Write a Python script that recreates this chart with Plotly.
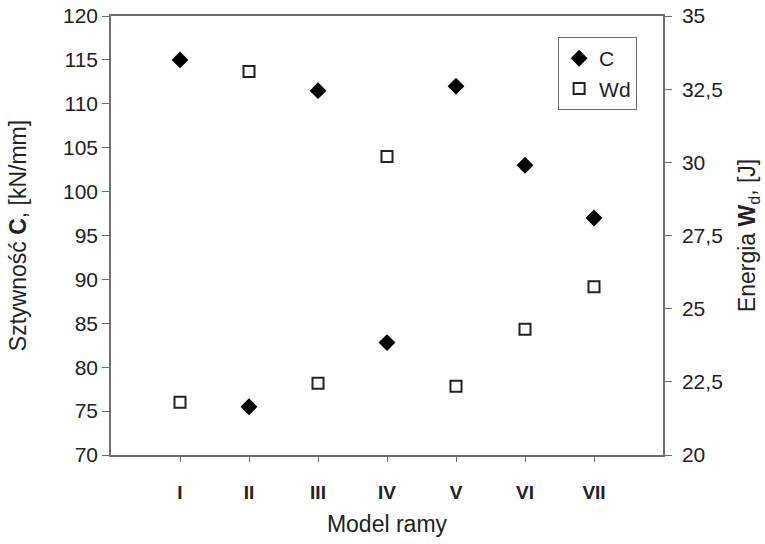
import plotly.graph_objects as go

categories = ["I", "II", "III", "IV", "V", "VI", "VII"]
stiffness_C = [115.0, 75.5, 111.5, 82.8, 112.0, 103.0, 97.0]
energy_Wd = [21.8, 33.1, 22.45, 30.2, 22.35, 24.3, 25.75]

left_ticks = [70, 75, 80, 85, 90, 95, 100, 105, 110, 115, 120]
right_ticks = [20, 22.5, 25, 27.5, 30, 32.5, 35]
right_ticktext = ["20", "22,5", "25", "27,5", "30", "32,5", "35"]
x_ticktext = ["<b>I</b>", "<b>II</b>", "<b>III</b>", "<b>IV</b>", "<b>V</b>", "<b>VI</b>", "<b>VII</b>"]

FONT = "Liberation Sans, Arial, sans-serif"
AX = "#6e6e6e"

fig = go.Figure()
fig.add_trace(go.Scatter(
    x=categories, y=stiffness_C, mode="markers", name="C",
    marker=dict(symbol="diamond", size=13, color="black", line=dict(width=0)),
    yaxis="y"))
fig.add_trace(go.Scatter(
    x=categories, y=energy_Wd, mode="markers", name="Wd",
    marker=dict(symbol="square-open", size=11, color="#222", line=dict(width=2, color="#222")),
    yaxis="y2"))

fig.update_layout(
    width=765, height=544,
    margin=dict(l=111, r=102, t=16, b=89, autoexpand=False),
    paper_bgcolor="white", plot_bgcolor="white",
    font=dict(family=FONT, size=21, color="#222"),
    separators=", ",
    showlegend=True,
    legend=dict(x=0.81, y=0.952, xanchor="left", yanchor="top",
                bordercolor=AX, borderwidth=1, bgcolor="white",
                font=dict(size=21, family=FONT), itemwidth=30,
                tracegroupgap=0),
    xaxis=dict(type="category", categoryorder="array", categoryarray=categories,
               range=[-1, 7], tickvals=categories, ticktext=x_ticktext,
               ticks="outside", ticklen=5, tickcolor=AX,
               showline=True, linecolor=AX, linewidth=1.5, mirror=True,
               showgrid=False, zeroline=False, automargin=False,
               ticklabelstandoff=14,
               tickfont=dict(size=19, family=FONT),
               title=dict(text="Model ramy", font=dict(size=23), standoff=14)),
    yaxis=dict(range=[70, 120], tickvals=left_ticks,
               ticks="outside", ticklen=7, tickcolor=AX,
               showline=True, linecolor=AX, linewidth=1.5, mirror=False,
               showgrid=False, zeroline=False, automargin=False,
               tickfont=dict(size=21, family=FONT),
               title=dict(text="Sztywność <b>C</b>, [kN/mm]", font=dict(size=23), standoff=30)),
    yaxis2=dict(range=[20, 35], tickvals=right_ticks, ticktext=right_ticktext,
                overlaying="y", side="right", anchor="x",
                ticks="outside", ticklen=7, tickcolor=AX,
                showline=True, linecolor=AX, linewidth=1.5,
                showgrid=False, zeroline=False, automargin=False,
                ticklabelstandoff=6,
                tickfont=dict(size=21, family=FONT),
                title=dict(text="Energia <b>W</b><sub>d</sub>, [J]", font=dict(size=23), standoff=17)),
)

fig.write_html("out.html")
